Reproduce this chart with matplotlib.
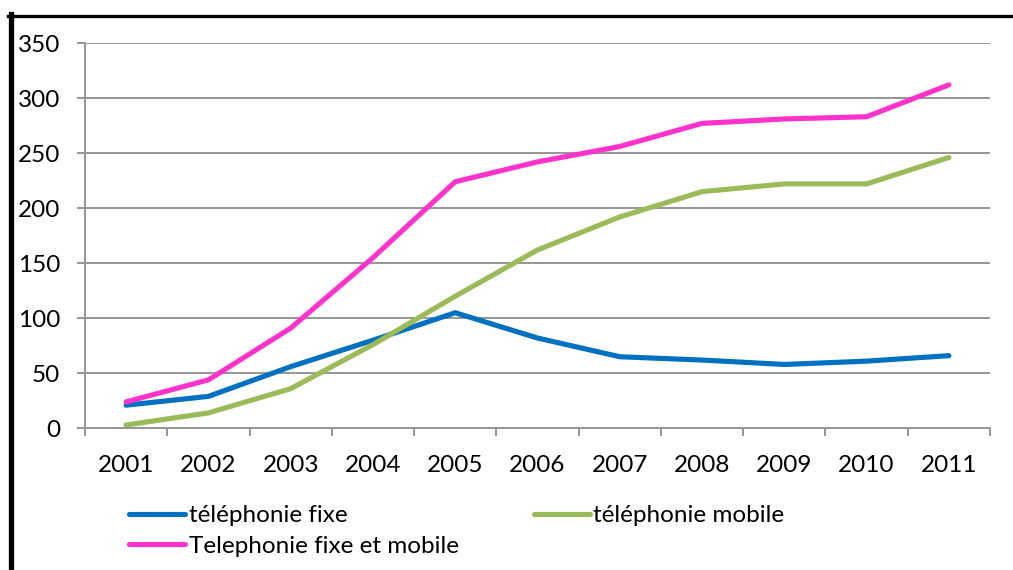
import matplotlib
matplotlib.use("Agg")
import matplotlib.pyplot as plt
from matplotlib.lines import Line2D

plt.rcParams['font.family'] = ['Lato', 'DejaVu Sans']

years = ["2001", "2002", "2003", "2004", "2005", "2006",
         "2007", "2008", "2009", "2010", "2011"]
fixe = [21, 29, 56, 80, 105, 82, 65, 62, 58, 61, 66]
mobile = [3, 14, 36, 76, 120, 162, 192, 215, 222, 222, 246]
fixe_et_mobile = [24, 44, 91, 155, 224, 242, 256, 277, 281, 283, 312]
y_ticks = [0, 50, 100, 150, 200, 250, 300, 350]

W, H = 1013, 570
FS = 17.5
fig = plt.figure(figsize=(W / 100, H / 100), dpi=100)
ax = fig.add_axes([85 / W, 1 - 428.3 / H, 905 / W, 385.3 / H])

x = list(range(len(years)))
lw = 3.7
l1, = ax.plot(x, fixe, color="#0070C0", lw=lw, solid_capstyle="round", solid_joinstyle="round")
l2, = ax.plot(x, mobile, color="#9BBB59", lw=lw, solid_capstyle="round", solid_joinstyle="round")
l3, = ax.plot(x, fixe_et_mobile, color="#FF33CC", lw=lw, solid_capstyle="round", solid_joinstyle="round")

ax.set_xlim(-0.5, len(years) - 0.5)
ax.set_ylim(0, 350)

grid_col = "#969696"
ax.set_yticks(y_ticks)
ax.set_yticklabels([str(v) for v in y_ticks])
ax.yaxis.grid(True, color=grid_col, lw=1.4)
ax.set_axisbelow(True)

# category boundaries as major ticks, labels centred on minor ticks
ax.set_xticks([i - 0.5 for i in range(len(years) + 1)])
ax.set_xticklabels([])
ax.set_xticks(x, minor=True)
ax.set_xticklabels(years, minor=True)
ax.tick_params(axis="x", which="major", direction="out", length=6, width=1.4, color=grid_col)
ax.tick_params(axis="x", which="minor", length=0, pad=19, labelsize=FS)
ax.tick_params(axis="y", direction="out", length=6, width=1.4, color=grid_col, pad=12, labelsize=FS)

for s in ("top", "right"):
    ax.spines[s].set_visible(False)
for s in ("left", "bottom"):
    ax.spines[s].set_color(grid_col)
    ax.spines[s].set_linewidth(1.4)

fig.legend(handles=[l1, l3, l2],
           labels=["téléphonie fixe", "Telephonie fixe et mobile", "téléphonie mobile"],
           ncol=2, loc="upper left", bbox_to_anchor=(129 / W, 1 - 505 / H),
           frameon=False, fontsize=FS, handlelength=2.3, handletextpad=0.15,
           columnspacing=3.1, labelspacing=0.4, borderpad=0, borderaxespad=0)

# frame edges of the chart box
fig.add_artist(Line2D([10.5 / W, 10.5 / W], [1 - 14 / H, 0], color="black", lw=3.8,
                      transform=fig.transFigure))
fig.add_artist(Line2D([8 / W, 1], [1 - 15.5 / H, 1 - 15.5 / H], color="black", lw=2.4,
                      transform=fig.transFigure))

fig.savefig("out.png", dpi=100)
